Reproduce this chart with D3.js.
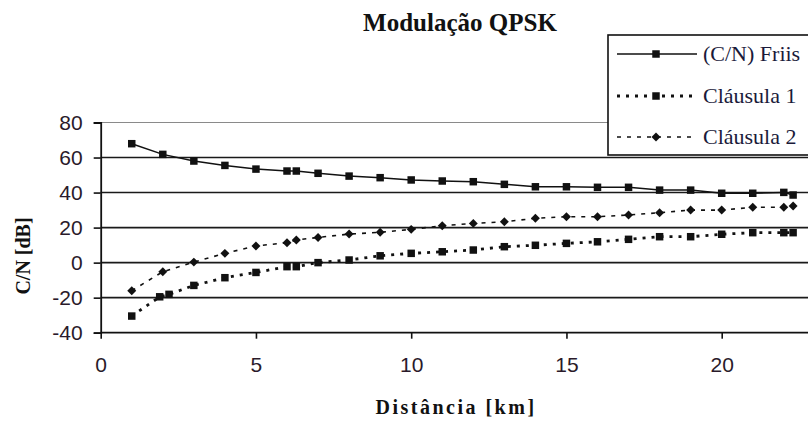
<!DOCTYPE html>
<html><head><meta charset="utf-8">
<script src="https://cdn.jsdelivr.net/npm/d3@7"></script>
<style>
html,body{margin:0;padding:0;background:#fff;overflow:hidden}
.serif{font-family:"Liberation Serif","Times New Roman",Times,"DejaVu Serif",serif}
.sans{font-family:"Liberation Sans",Arial,Helvetica,sans-serif}
</style>
</head><body>
<svg id="chart" width="808" height="421"></svg>
<script>
const title = "Modulação QPSK";
const xLabel = "Distância [km]";
const yLabel = "C/N [dB]";
const seriesNames = ["(C/N) Friis", "Cláusula 1", "Cláusula 2"];
const xTicks = [0, 5, 10, 15, 20];
const yTicks = [-40, -20, 0, 20, 40, 60, 80];

const friisX = [1,2,3,4,5,6,6.3,7,8,9,10,11,12,13,14,15,16,17,18,19,20,21,22,22.3];
const friisY = [67.9,61.8,58.0,55.5,53.4,52.3,52.3,51.0,49.4,48.5,47.2,46.6,46.2,44.7,43.3,43.3,43.0,43.0,41.4,41.4,39.6,39.6,40.1,38.6];

const clausula1X = [1,1.9,2.2,3,4,5,6,6.3,7,8,9,10,11,12,13,14,15,16,17,18,19,20,21,22,22.3];
const clausula1Y = [-30.5,-19.5,-18.1,-13.0,-8.6,-5.6,-2.3,-2.3,0.0,1.5,3.9,5.3,6.2,7.2,9.1,9.9,11.0,11.9,13.3,14.8,14.8,16.2,17.1,17.1,17.1];

const clausula2X = [1,2,3,4,5,6,6.3,7,8,9,10,11,12,13,14,15,16,17,18,19,20,21,22,22.3];
const clausula2Y = [-16.0,-5.2,0.3,5.3,9.5,11.4,12.9,14.4,16.3,17.3,19.0,21.1,22.4,23.3,25.3,26.2,26.2,27.2,28.5,30.0,30.0,31.6,31.6,32.3];

const svg = d3.select("#chart");
svg.append("rect").attr("width",808).attr("height",421).attr("fill","#fff");

const x = d3.scaleLinear().domain([0,25]).range([100.7, 100.7 + 25*31.05]);
const y = d3.scaleLinear().domain([-40,80]).range([332.7, 122.5]);

// gridlines
svg.append("g").selectAll("line").data(yTicks.filter(d=>d>-40)).join("line")
  .attr("x1", x(0)).attr("x2", 808)
  .attr("y1", d=>y(d)).attr("y2", d=>y(d))
  .attr("stroke", d=> d===80 ? "#8a8a8a" : "#1a1a1a")
  .attr("stroke-width", d=> d===80 ? 1.2 : 1.6);

// axes
const yAxis = svg.append("g").attr("transform",`translate(${x(0)},0)`)
  .call(d3.axisLeft(y).tickValues(yTicks).tickFormat(d=>String(d)).tickSize(7).tickPadding(11));
const xAxis = svg.append("g").attr("transform",`translate(0,${y(-40)})`)
  .call(d3.axisBottom(x).tickValues(xTicks).tickFormat(d=>String(d)).tickSize(6).tickPadding(18));
[yAxis,xAxis].forEach(a=>{
  a.attr("font-family",null).attr("font-size",null);
  a.select(".domain").attr("stroke","#111").attr("stroke-width",1.8);
  a.selectAll(".tick line").attr("stroke","#111").attr("stroke-width",1.6);
  a.selectAll("text").attr("class","sans").style("font-size","21px").attr("fill","#2a1a2a");
});
xAxis.select(".domain").attr("d", `M${x(0)},0H808`);

// series
function pts(xs, ys){ return xs.map((v,i)=>({x:v,y:ys[i]})); }
const line = d3.line().x(d=>x(d.x)).y(d=>y(d.y));
const series = [
  {name: seriesNames[0], data: pts(friisX, friisY), dash: null, width: 1.5, marker: "square"},
  {name: seriesNames[1], data: pts(clausula1X, clausula1Y), dash: "3,6", width: 2.8, marker: "square"},
  {name: seriesNames[2], data: pts(clausula2X, clausula2Y), dash: "4,6", width: 1.6, marker: "diamond"}
];
const sq = d3.symbol().type(d3.symbolSquare).size(56)();
const dm = d3.symbol().type(d3.symbolSquare).size(40)();
const markerPath = s => s.marker === "square" ? sq : dm;
const markerRot = s => s.marker === "square" ? "" : " rotate(45)";

series.forEach(s=>{
  svg.append("path").datum(s.data).attr("d", line)
    .attr("fill","none").attr("stroke","#111").attr("stroke-width",s.width)
    .attr("stroke-dasharray", s.dash);
  svg.append("g").selectAll("path").data(s.data).join("path")
    .attr("transform", d=>`translate(${x(d.x)},${y(d.y)})${markerRot(s)}`)
    .attr("d", markerPath(s)).attr("fill","#111");
});

// legend
const lg = svg.append("g");
lg.append("rect").attr("x",608).attr("y",35).attr("width",230).attr("height",120)
  .attr("fill","#fff").attr("stroke","#111").attr("stroke-width",1.6);
const rowsY = [54, 96, 137];
series.forEach((s,i)=>{
  lg.append("line").attr("x1",617).attr("x2",697).attr("y1",rowsY[i]).attr("y2",rowsY[i])
    .attr("stroke","#111").attr("stroke-width",s.width).attr("stroke-dasharray",s.dash);
  lg.append("path").attr("transform",`translate(656,${rowsY[i]})${markerRot(s)}`)
    .attr("d", markerPath(s)).attr("fill","#111");
  lg.append("text").attr("class","serif").attr("x",703).attr("y",rowsY[i]+7)
    .style("font-size","22px").attr("fill","#1a1a3a").text(s.name);
});

// titles
svg.append("text").attr("class","serif").attr("x",460).attr("y",31).attr("text-anchor","middle")
  .style("font-weight","bold").style("font-size","25px")
  .attr("fill","#111").text(title);
svg.append("text").attr("class","serif").attr("x",456).attr("y",414).attr("text-anchor","middle")
  .style("font-weight","bold").style("font-size","20px")
  .style("letter-spacing","2.5px").attr("fill","#111").text(xLabel);
svg.append("text").attr("class","serif").attr("transform","translate(30,256) rotate(-90)").attr("text-anchor","middle")
  .style("font-weight","bold").style("font-size","20px")
  .attr("fill","#111").text(yLabel);
</script>
</body></html>
